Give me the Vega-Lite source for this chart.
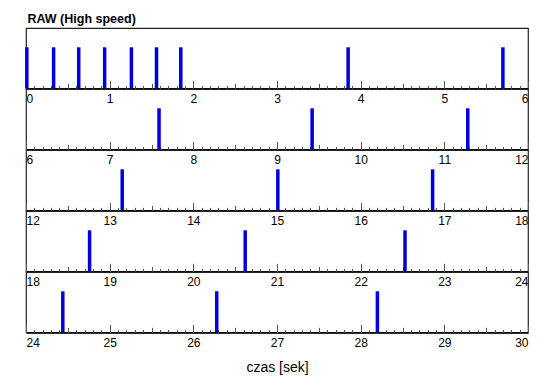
{
  "$schema": "https://vega.github.io/schema/vega-lite/v6.json",
  "padding": {"left": 24, "top": 12, "right": 5, "bottom": 5},
  "background": "white",
  "title": {"text": "RAW (High speed)", "anchor": "start", "fontSize": 12.5, "font": "Liberation Sans", "fontWeight": "bold", "color": "black", "offset": 2, "dx": 3},
  "data": {"values": [
    {"t": 0.01, "v": 1}, {"t": 0.33, "v": 1}, {"t": 0.63, "v": 1}, {"t": 0.94, "v": 1},
    {"t": 1.26, "v": 1}, {"t": 1.56, "v": 1}, {"t": 1.85, "v": 1}, {"t": 3.85, "v": 1},
    {"t": 5.70, "v": 1}, {"t": 7.59, "v": 1}, {"t": 9.42, "v": 1}, {"t": 11.28, "v": 1},
    {"t": 13.15, "v": 1}, {"t": 15.01, "v": 1}, {"t": 16.86, "v": 1},
    {"t": 18.76, "v": 1}, {"t": 20.62, "v": 1}, {"t": 22.53, "v": 1},
    {"t": 24.44, "v": 1}, {"t": 26.28, "v": 1}, {"t": 28.20, "v": 1}
  ]},
  "spacing": 0,
  "bounds": "flush",
  "vconcat": [
    {
      "width": 502, "height": 60.4,
      "transform": [{"filter": {"field": "t", "range": [0, 6]}}],
      "encoding": {"y": {"field": "v", "type": "quantitative", "scale": {"domain": [0, 1.47]}, "axis": null}},
      "resolve": {"axis": {"x": "independent"}},
      "layer": [
        {"mark": {"type": "bar", "color": "#0000dd", "width": 3.5},
         "encoding": {"x": {"field": "t", "type": "quantitative", "scale": {"domain": [0, 6], "nice": false, "zero": false, "padding": 0},
                 "axis": {"orient": "bottom", "tickCount": 6, "tickSize": -8, "title": null}}}},
        {"mark": {"type": "bar", "opacity": 0, "width": 1},
         "encoding": {"x": {"field": "t", "type": "quantitative", "scale": {"domain": [0, 6], "nice": false, "zero": false, "padding": 0},
                 "axis": {"orient": "bottom", "tickCount": 12, "tickSize": -5, "labels": false, "domain": false, "title": null}}}},
        {"mark": {"type": "bar", "opacity": 0, "width": 1},
         "encoding": {"x": {"field": "t", "type": "quantitative", "scale": {"domain": [0, 6], "nice": false, "zero": false, "padding": 0},
                 "axis": {"orient": "bottom", "tickCount": 60, "tickSize": -3, "labels": false, "domain": false, "title": null}}}}
      ]
    },
    {
      "width": 502, "height": 60.4,
      "transform": [{"filter": {"field": "t", "range": [6, 12]}}],
      "encoding": {"y": {"field": "v", "type": "quantitative", "scale": {"domain": [0, 1.47]}, "axis": null}},
      "resolve": {"axis": {"x": "independent"}},
      "layer": [
        {"mark": {"type": "bar", "color": "#0000dd", "width": 3.5},
         "encoding": {"x": {"field": "t", "type": "quantitative", "scale": {"domain": [6, 12], "nice": false, "zero": false, "padding": 0},
                 "axis": {"orient": "bottom", "tickCount": 6, "tickSize": -8, "title": null}}}},
        {"mark": {"type": "bar", "opacity": 0, "width": 1},
         "encoding": {"x": {"field": "t", "type": "quantitative", "scale": {"domain": [6, 12], "nice": false, "zero": false, "padding": 0},
                 "axis": {"orient": "bottom", "tickCount": 12, "tickSize": -5, "labels": false, "domain": false, "title": null}}}},
        {"mark": {"type": "bar", "opacity": 0, "width": 1},
         "encoding": {"x": {"field": "t", "type": "quantitative", "scale": {"domain": [6, 12], "nice": false, "zero": false, "padding": 0},
                 "axis": {"orient": "bottom", "tickCount": 60, "tickSize": -3, "labels": false, "domain": false, "title": null}}}}
      ]
    },
    {
      "width": 502, "height": 60.4,
      "transform": [{"filter": {"field": "t", "range": [12, 18]}}],
      "encoding": {"y": {"field": "v", "type": "quantitative", "scale": {"domain": [0, 1.47]}, "axis": null}},
      "resolve": {"axis": {"x": "independent"}},
      "layer": [
        {"mark": {"type": "bar", "color": "#0000dd", "width": 3.5},
         "encoding": {"x": {"field": "t", "type": "quantitative", "scale": {"domain": [12, 18], "nice": false, "zero": false, "padding": 0},
                 "axis": {"orient": "bottom", "tickCount": 6, "tickSize": -8, "title": null}}}},
        {"mark": {"type": "bar", "opacity": 0, "width": 1},
         "encoding": {"x": {"field": "t", "type": "quantitative", "scale": {"domain": [12, 18], "nice": false, "zero": false, "padding": 0},
                 "axis": {"orient": "bottom", "tickCount": 12, "tickSize": -5, "labels": false, "domain": false, "title": null}}}},
        {"mark": {"type": "bar", "opacity": 0, "width": 1},
         "encoding": {"x": {"field": "t", "type": "quantitative", "scale": {"domain": [12, 18], "nice": false, "zero": false, "padding": 0},
                 "axis": {"orient": "bottom", "tickCount": 60, "tickSize": -3, "labels": false, "domain": false, "title": null}}}}
      ]
    },
    {
      "width": 502, "height": 60.4,
      "transform": [{"filter": {"field": "t", "range": [18, 24]}}],
      "encoding": {"y": {"field": "v", "type": "quantitative", "scale": {"domain": [0, 1.47]}, "axis": null}},
      "resolve": {"axis": {"x": "independent"}},
      "layer": [
        {"mark": {"type": "bar", "color": "#0000dd", "width": 3.5},
         "encoding": {"x": {"field": "t", "type": "quantitative", "scale": {"domain": [18, 24], "nice": false, "zero": false, "padding": 0},
                 "axis": {"orient": "bottom", "tickCount": 6, "tickSize": -8, "title": null}}}},
        {"mark": {"type": "bar", "opacity": 0, "width": 1},
         "encoding": {"x": {"field": "t", "type": "quantitative", "scale": {"domain": [18, 24], "nice": false, "zero": false, "padding": 0},
                 "axis": {"orient": "bottom", "tickCount": 12, "tickSize": -5, "labels": false, "domain": false, "title": null}}}},
        {"mark": {"type": "bar", "opacity": 0, "width": 1},
         "encoding": {"x": {"field": "t", "type": "quantitative", "scale": {"domain": [18, 24], "nice": false, "zero": false, "padding": 0},
                 "axis": {"orient": "bottom", "tickCount": 60, "tickSize": -3, "labels": false, "domain": false, "title": null}}}}
      ]
    },
    {
      "width": 502, "height": 60.4,
      "transform": [{"filter": {"field": "t", "range": [24, 30]}}],
      "encoding": {"y": {"field": "v", "type": "quantitative", "scale": {"domain": [0, 1.47]}, "axis": null}},
      "resolve": {"axis": {"x": "independent"}},
      "layer": [
        {"mark": {"type": "bar", "color": "#0000dd", "width": 3.5},
         "encoding": {"x": {"field": "t", "type": "quantitative", "scale": {"domain": [24, 30], "nice": false, "zero": false, "padding": 0},
                 "axis": {"orient": "bottom", "tickCount": 6, "tickSize": -8, "title": "czas [sek]", "titlePadding": 12}}}},
        {"mark": {"type": "bar", "opacity": 0, "width": 1},
         "encoding": {"x": {"field": "t", "type": "quantitative", "scale": {"domain": [24, 30], "nice": false, "zero": false, "padding": 0},
                 "axis": {"orient": "bottom", "tickCount": 12, "tickSize": -5, "labels": false, "domain": false, "title": null}}}},
        {"mark": {"type": "bar", "opacity": 0, "width": 1},
         "encoding": {"x": {"field": "t", "type": "quantitative", "scale": {"domain": [24, 30], "nice": false, "zero": false, "padding": 0},
                 "axis": {"orient": "bottom", "tickCount": 60, "tickSize": -3, "labels": false, "domain": false, "title": null}}}}
      ]
    }
  ],
  "config": {
    "view": {"stroke": "#222", "strokeWidth": 1.2},
    "axis": {
      "grid": false, "domainColor": "black", "domainWidth": 1.5, "tickColor": "#555", "tickWidth": 1,
      "labelFont": "Liberation Sans", "labelFontSize": 12, "labelColor": "black", "labelFlush": true, "labelPadding": 13,
      "titleFont": "Liberation Sans", "titleFontSize": 14, "titleFontWeight": "normal", "titleColor": "black"
    }
  }
}
